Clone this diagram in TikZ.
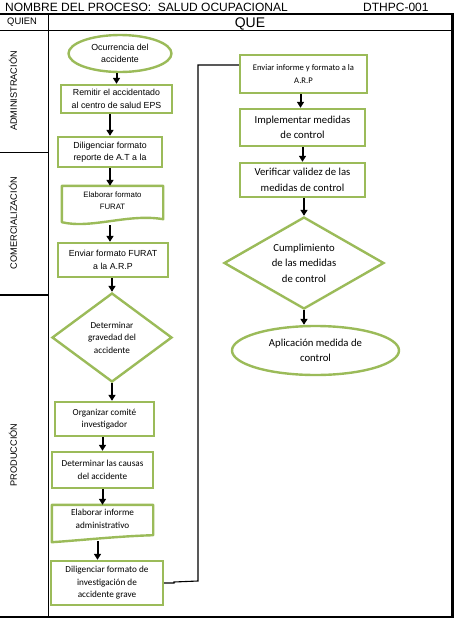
\documentclass[tikz,border=0pt]{standalone}
\usepackage{fontspec}
\setmainfont{Liberation Sans}
\newfontfamily\calib{Carlito}
\usetikzlibrary{shapes.geometric,arrows.meta}
\definecolor{gr}{HTML}{9BBB59}
\begin{document}
\begin{tikzpicture}[x=1pt,y=-1pt,
  grid/.style={line width=1.2pt,black},
  box/.style={draw=gr,line width=2.4pt,align=center,inner sep=0pt,rectangle},
  docbox/.style={align=center,inner sep=0pt,rectangle},
  ell/.style={draw=gr,line width=2.4pt,align=center,inner sep=0pt,ellipse},
  dia/.style={draw=gr,line width=2.4pt,inner sep=0pt,diamond},
  ar/.style={font=\fontsize{8.8}{12.4}\selectfont},
  ca/.style={font=\calib\fontsize{9.2}{12.5}\selectfont},
  cb/.style={font=\calib\fontsize{10.7}{15.5}\selectfont},
  arr/.style={line width=2pt,-{Triangle[length=6pt,width=7pt]}},
  lane/.style={rotate=90,font=\fontsize{9.2}{10}\selectfont}
]
\useasboundingbox (0,0) rectangle (454,638);
% table
\draw[grid] (0,14) -- (453,14);
\draw[grid] (0,30.5) -- (453,30.5);
\draw[grid] (48.5,14) -- (48.5,617);
\draw[grid] (0,152.5) -- (48.5,152.5);
\draw[grid] (0,295) -- (48.5,295);
\draw[grid] (0,617) -- (453,617);
\draw[line width=2.4pt] (452.5,13.4) -- (452.5,617.6);
% headers
\node[anchor=base west,inner sep=0pt,font=\fontsize{12}{14}\selectfont] (title) at (5,11.7) {NOMBRE DEL PROCESO:\ \ SALUD OCUPACIONAL};
\node[anchor=base west,inner sep=0pt,font=\fontsize{12}{14}\selectfont] (code) at (363,11.7) {DTHPC-001};
\node[anchor=base west,inner sep=0pt,font=\fontsize{9.4}{11}\selectfont] (quien) at (7,24) {QUIEN};
\node[anchor=base,inner sep=0pt,font=\fontsize{14}{16}\selectfont] (que) at (250,27.7) {QUE};
\node[lane] (l1) at (13,91) {ADMINISTRACIÓN};
\node[lane] (l2) at (13,223) {COMERCIALIZACIÓN};
\node[lane] (l3) at (13,455) {PRODUCCIÓN};
% left column
\node[ell,ar,minimum width=103pt,minimum height=37pt] (n1) at (120,53.5) {Ocurrencia del\\accidente};
\node[box,ar,minimum width=111pt,minimum height=28pt] (n2) at (116.5,99) {Remitir el accidentado\\al centro de salud EPS};
\node[box,ar,minimum width=104pt,minimum height=30pt] (n3) at (110,152) {Diligenciar formato\\reporte de A.T a la};
\node[docbox,font=\fontsize{7.8}{12}\selectfont,minimum width=101pt,minimum height=39pt] (n4) at (112.5,205.5) {Elaborar formato\\FURAT\\[-2pt]};
\draw[draw=gr,line width=2.4pt,line join=round] (n4.north west) -- (n4.north east) -- ([yshift=6pt]n4.south east)
  .. controls ([xshift=-35pt,yshift=12pt]n4.south east) and ([xshift=30pt,yshift=-4pt]n4.south west) .. ([yshift=3pt]n4.south west) -- cycle;
\node[box,ar,minimum width=110pt,minimum height=34pt] (n5) at (113,260) {Enviar formato FURAT\\a la A.R.P};
\node[dia,minimum width=120pt,minimum height=89pt] (n6) at (112,337.5) {};
\node[ca,align=center] (t6) at (n6.center) {Determinar\\gravedad del\\accidente};
\node[box,ca,minimum width=99pt,minimum height=34pt] (n7) at (104.5,419) {Organizar comité\\investigador};
\node[box,ca,minimum width=101pt,minimum height=36pt] (n8) at (102.5,470) {Determinar las causas\\del accidente};
\node[docbox,ca,minimum width=101pt,minimum height=37pt] (n9) at (102.5,523.5) {Elaborar informe\\administrativo\\[-3pt]};
\draw[draw=gr,line width=2.4pt,line join=round] (n9.north west) -- (n9.north east) -- ([yshift=7pt]n9.south east)
  .. controls ([xshift=-35pt,yshift=6pt]n9.south east) and ([xshift=30pt,yshift=2pt]n9.south west) .. (n9.south west) -- cycle;
\node[box,ca,minimum width=112pt,minimum height=44pt] (n10) at (107,583) {Diligenciar formato de\\investigación de\\accidente grave};
% right column
\node[box,font=\calib\fontsize{8.6}{12.5}\selectfont,minimum width=127pt,minimum height=38pt] (n11) at (303.5,74) {Enviar informe y formato a la\\A.R.P};
\node[box,cb,minimum width=125pt,minimum height=37pt] (n12) at (302.5,127.5) {Implementar medidas\\de control};
\node[box,cb,minimum width=125pt,minimum height=34pt] (n13) at (302.5,180) {Verificar validez de las\\medidas de control};
\node[dia,minimum width=160pt,minimum height=92pt] (n14) at (304,263) {};
\node[cb,align=center] (t14) at (n14.center) {Cumplimiento\\de las medidas\\de control};
\node[ell,cb,minimum width=167pt,minimum height=49pt] (n15) at (315.5,350.5) {Aplicación medida de\\control};
% connectors
\draw[arr] (n1.south -| n2.north) -- (n2.north);
\draw[arr] (n2.south -| n3.north) -- (n3.north);
\draw[arr] (n3.south) -- (n3.south |- n4.north);
\draw[arr] (n4.south -| n3.south) -- (n3.south |- n5.north);
\draw[arr] (n5.south -| n6.north) -- (n6.north);
\draw[arr] (n6.south) -- (n6.south |- n7.north);
\draw[arr] (n7.south -| n8.north) -- (n8.north);
\draw[arr] (n8.south) -- (n8.south |- n9.north);
\draw[arr] ([xshift=-5pt,yshift=1pt]n9.south) -- ([xshift=-5pt]n9.south |- n10.north);
\coordinate (j1) at (174,582);
\coordinate (j2) at (198,581);
\draw[line width=1.1pt] (n10.east) -- (n10.east -| j1) -- (j1) -- (j2) -- (j2 |- 0,65) -- ([yshift=9pt]n11.west);
\draw[arr] ([xshift=-3pt]n11.south) -- ([xshift=-3pt]n11.south |- n12.north);
\draw[arr] (n12.south) -- (n13.north);
\draw[arr] (n13.south -| n14.north) -- (n14.north);
\draw[arr] (n14.south) -- (n14.south |- n15.north);
\end{tikzpicture}
\end{document}
